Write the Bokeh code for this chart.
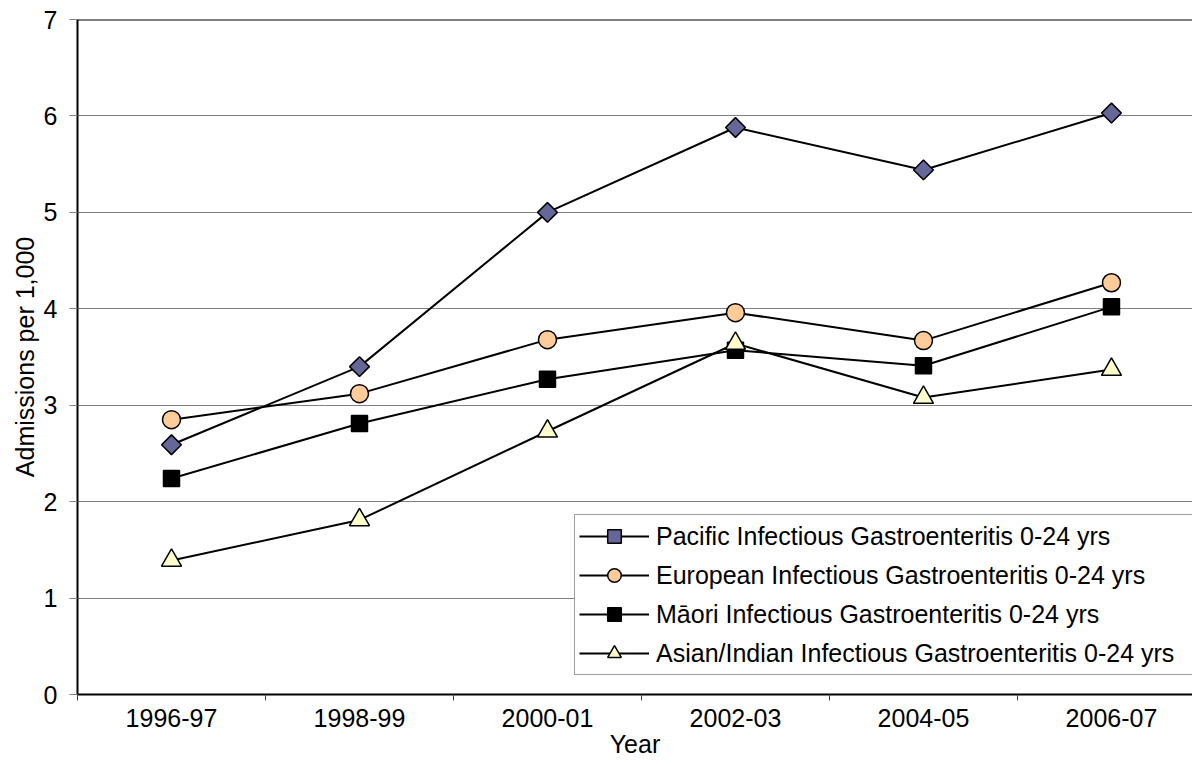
from bokeh.plotting import figure
from bokeh.models import FixedTicker, Span, Legend, LegendItem, Range1d
from bokeh.embed import file_html
from bokeh.resources import INLINE
import numpy as np

# ---- data ----
years = ["1996-97", "1998-99", "2000-01", "2002-03", "2004-05", "2006-07"]
pacific = [2.59, 3.40, 5.00, 5.88, 5.44, 6.03]
european = [2.85, 3.12, 3.68, 3.96, 3.67, 4.27]
maori = [2.24, 2.81, 3.27, 3.57, 3.41, 4.02]
asian = [1.39, 1.81, 2.73, 3.64, 3.08, 3.37]
series_names = [
    "Pacific Infectious Gastroenteritis 0-24 yrs",
    "European Infectious Gastroenteritis 0-24 yrs",
    "Māori Infectious Gastroenteritis 0-24 yrs",
    "Asian/Indian Infectious Gastroenteritis 0-24 yrs",
]
y_ticks = [0, 1, 2, 3, 4, 5, 6, 7]
y_label = "Admissions per 1,000"
x_label = "Year"

FONT = "Liberation Sans"
FS = "25px"

# category positions (centre of each category slot)
xc = [i + 0.5 for i in range(len(years))]
edges = [float(i) for i in range(len(years) + 1)]

p = figure(width=1192, height=764, output_backend="svg", toolbar_location=None,
           x_range=Range1d(0, 5.931), y_range=Range1d(0, 7),
           min_border_left=77, min_border_right=0, min_border_top=19,
           min_border_bottom=70)
p.outline_line_color = None
p.background_fill_color = "white"
p.border_fill_color = "white"

# x axis
xa = p.xaxis[0]
xa.ticker = FixedTicker(ticks=xc, minor_ticks=edges)
xa.major_label_overrides = {x: lab for x, lab in zip(xc, years)}
xa.major_tick_line_color = None
xa.major_tick_out = 6
xa.minor_tick_out = 6
xa.minor_tick_in = 0
xa.minor_tick_line_color = "#404040"
xa.axis_line_color = "black"
xa.axis_line_width = 2
xa.major_label_text_font = FONT
xa.major_label_text_font_size = FS
xa.major_label_text_color = "black"
xa.major_label_standoff = 8
xa.axis_label = x_label
xa.axis_label_text_font = FONT
xa.axis_label_text_font_size = FS
xa.axis_label_text_font_style = "normal"
xa.axis_label_text_color = "black"
xa.axis_label_standoff = 0

# y axis
ya = p.yaxis[0]
ya.ticker = FixedTicker(ticks=y_ticks, minor_ticks=[])
ya.major_tick_out = 8
ya.major_tick_in = 0
ya.major_tick_line_color = "#808080"
ya.axis_line_color = "black"
ya.axis_line_width = 2
ya.major_label_text_font = FONT
ya.major_label_text_font_size = FS
ya.major_label_text_color = "black"
ya.major_label_standoff = 12
ya.axis_label = y_label
ya.axis_label_text_font = FONT
ya.axis_label_text_font_size = FS
ya.axis_label_text_font_style = "normal"
ya.axis_label_text_color = "black"
ya.axis_label_standoff = 2

p.xgrid.grid_line_color = None
p.ygrid.grid_line_color = "#808080"
p.ygrid.grid_line_width = 1

p.add_layout(Span(location=7, dimension="width", line_color="black", line_width=2))

styles = [
    dict(marker="square", angle=np.pi / 4, size=14, fill="#666699"),
    dict(marker="circle", angle=0, size=18, fill="#FFCC99"),
    dict(marker="square", angle=0, size=16, fill="black"),
    dict(marker="triangle", angle=0, size=20, fill="#FFFFCC"),
]
items = []
for vals, name, st in zip([pacific, european, maori, asian], series_names, styles):
    ln = p.line(xc, vals, line_color="black", line_width=2)
    sc = p.scatter(xc, vals, marker=st["marker"], angle=st["angle"], size=st["size"],
                   fill_color=st["fill"], line_color="black", line_width=1.5)
    items.append(LegendItem(label=name, renderers=[ln, sc]))

legend = Legend(items=items, location=(497, 19), orientation="vertical",
                label_text_font=FONT, label_text_font_size=FS, label_text_color="black",
                padding=4, spacing=5, label_height=34, glyph_height=34, glyph_width=70,
                label_standoff=7, label_width=532, margin=0,
                border_line_color="#404040", border_line_width=1.5,
                background_fill_color="white", background_fill_alpha=1.0)
p.add_layout(legend)

open("out.html", "w").write(file_html(p, INLINE))
